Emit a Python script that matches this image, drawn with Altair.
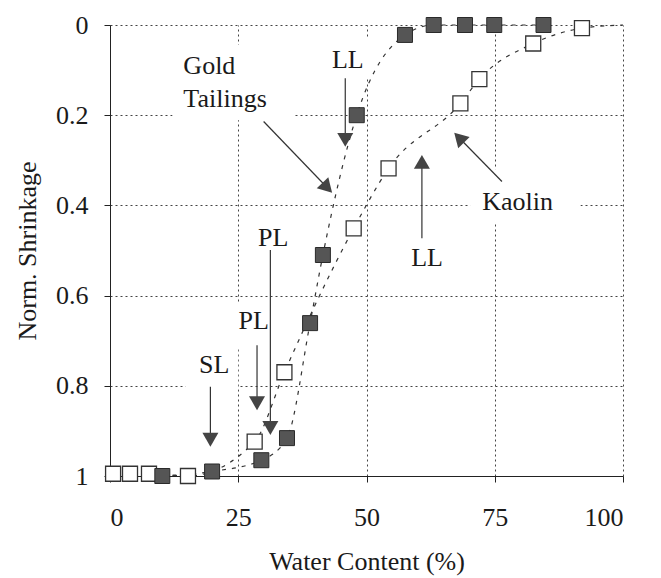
import math
import altair as alt
import pandas as pd

# ---- data ----
gold_x = [10.2, 19.9, 29.5, 34.5, 39.0, 41.5, 48.1, 57.5, 63.1, 69.2, 74.9, 84.5]
gold_y = [1.0, 0.99, 0.965, 0.916, 0.661, 0.51, 0.2, 0.022, 0.0, 0.0, 0.0, 0.0]

kaolin_x = [0.6, 3.9, 7.6, 15.2, 28.2, 34.0, 47.5, 54.3, 68.3, 72.0, 82.5, 92.0]
kaolin_y = [0.995, 0.995, 0.995, 1.0, 0.924, 0.77, 0.451, 0.318, 0.174, 0.12, 0.041, 0.007]
kaolin_tail_x = [100.0]
kaolin_tail_y = [0.0]

label_text = ["Gold", "Tailings", "LL", "Kaolin", "LL", "PL", "PL", "SL"]
label_x = [14.3, 14.3, 46.35, 79.45, 61.8, 31.8, 28.0, 20.3]
label_y = [0.091, 0.163, 0.077, 0.392, 0.517, 0.473, 0.656, 0.754]
label_align = ["left", "left", "center", "center", "center", "center", "center", "center"]

# white boxes behind some labels (they mask the grid in the reference)
box_x1 = [12.2, 42.0, 70.2, 24.1, 14.7]
box_x2 = [35.7, 50.8, 91.7, 32.2, 25.0]
box_y1 = [0.044, 0.03, 0.32, 0.615, 0.71]
box_y2 = [0.211, 0.118, 0.44, 0.714, 0.81]

arrow_x1 = [29.95, 45.86, 76.4, 60.8, 31.26, 28.66, 19.57]
arrow_y1 = [0.214, 0.118, 0.347, 0.473, 0.499, 0.71, 0.802]
arrow_x2 = [43.3, 45.86, 67.1, 60.8, 31.26, 28.66, 19.57]
arrow_y2 = [0.372, 0.27, 0.239, 0.288, 0.909, 0.854, 0.935]

x_ticks = [0, 25, 50, 75, 100]
y_ticks = [0, 0.2, 0.4, 0.6, 0.8, 1]

# ---- layout ----
W, H = 513, 451
FONT = "Liberation Serif"
FS = 26
HEAD = 256  # triangle area

px_x = W / 100.0
px_y = H / 1.0

line_rows = []
for x, y in zip(gold_x, gold_y):
    line_rows.append({"s": "Gold", "x": x, "y": y})
for x, y in zip(kaolin_x + kaolin_tail_x, kaolin_y + kaolin_tail_y):
    line_rows.append({"s": "Kaolin", "x": x, "y": y})
lines_df = pd.DataFrame(line_rows)

gold_df = pd.DataFrame({"x": gold_x, "y": gold_y})
kaolin_df = pd.DataFrame({"x": kaolin_x, "y": kaolin_y})
boxes_df = pd.DataFrame({"x1": box_x1, "x2": box_x2, "y1": box_y1, "y2": box_y2})

arrow_rows = []
head_h = math.sqrt(3) * math.sqrt(HEAD) / 4  # half height of triangle
for x1, y1, x2, y2 in zip(arrow_x1, arrow_y1, arrow_x2, arrow_y2):
    dxp = (x2 - x1) * px_x
    dyp = (y2 - y1) * px_y
    L = math.hypot(dxp, dyp)
    ux, uy = dxp / L, dyp / L
    ang = math.degrees(math.atan2(ux, -uy)) % 360
    cx = x2 - ux * head_h / px_x
    cy = y2 - uy * head_h / px_y
    arrow_rows.append({"x1": x1, "y1": y1, "x2": x2, "y2": y2,
                       "hx": cx, "hy": cy, "ang": ang})
arrows_df = pd.DataFrame(arrow_rows)

labels_df = pd.DataFrame({"t": label_text, "x": label_x, "y": label_y, "a": label_align})

xscale = alt.Scale(domain=[0, 100], nice=False, zero=False)
yscale = alt.Scale(domain=[0, 1], reverse=True, nice=False, zero=False)

xaxis = alt.Axis(values=x_ticks, title="Water Content (%)", grid=True,
                 labelBaseline="middle", labelPadding=35, tickSize=6,
                 titleY=85, titleBaseline="middle")
yaxis = alt.Axis(values=y_ticks, title="Norm. Shrinkage", grid=True, format=".1~f",
                 labelPadding=16, tickSize=6,
                 titleX=-83, titleY=H / 2, titleBaseline="middle",
                 titleAlign="center", titleAngle=270)

boxes = alt.Chart(boxes_df).mark_rect(color="white", opacity=1).encode(
    x=alt.X("x1:Q", scale=xscale, axis=xaxis),
    y=alt.Y("y1:Q", scale=yscale, axis=yaxis),
    x2="x2:Q", y2="y2:Q",
)

lines = alt.Chart(lines_df).mark_line(
    color="#333333", strokeWidth=1.2, strokeDash=[4, 6], interpolate="monotone"
).encode(
    x=alt.X("x:Q", scale=xscale),
    y=alt.Y("y:Q", scale=yscale),
    detail="s:N",
)

gold_pts = alt.Chart(gold_df).mark_square(
    size=225, filled=True, color="#555555", stroke="#2a2a2a", strokeWidth=1, opacity=1
).encode(x=alt.X("x:Q", scale=xscale), y=alt.Y("y:Q", scale=yscale))

kaolin_pts = alt.Chart(kaolin_df).mark_square(
    size=225, filled=True, color="white", stroke="#333333", strokeWidth=1.3, opacity=1
).encode(x=alt.X("x:Q", scale=xscale), y=alt.Y("y:Q", scale=yscale))

shafts = alt.Chart(arrows_df).mark_rule(color="#333333", strokeWidth=1.2).encode(
    x=alt.X("x1:Q", scale=xscale), y=alt.Y("y1:Q", scale=yscale),
    x2="hx:Q", y2="hy:Q",
)

heads = alt.Chart(arrows_df).mark_point(
    shape="triangle-up", size=HEAD, filled=True, color="#444444", opacity=1
).encode(
    x=alt.X("hx:Q", scale=xscale), y=alt.Y("hy:Q", scale=yscale),
    angle=alt.Angle("ang:Q", scale=None),
)

texts_left = alt.Chart(labels_df[labels_df.a == "left"]).mark_text(
    font=FONT, fontSize=FS, align="left", baseline="middle", color="#1a1a1a"
).encode(x=alt.X("x:Q", scale=xscale), y=alt.Y("y:Q", scale=yscale), text="t:N")

texts_center = alt.Chart(labels_df[labels_df.a == "center"]).mark_text(
    font=FONT, fontSize=FS, align="center", baseline="middle", color="#1a1a1a"
).encode(x=alt.X("x:Q", scale=xscale), y=alt.Y("y:Q", scale=yscale), text="t:N")

chart = alt.layer(
    boxes, lines, kaolin_pts, gold_pts, shafts, heads, texts_left, texts_center
).properties(
    width=W, height=H,
    autosize=alt.AutoSizeParams(type="none"),
    padding={"left": 102, "top": 17, "right": 30, "bottom": 100},
    background="white",
).configure_view(stroke=None).configure_axis(
    labelFont=FONT, titleFont=FONT, labelFontSize=FS, titleFontSize=FS,
    labelColor="#1a1a1a", titleColor="#1a1a1a", titleFontWeight="normal",
    domainColor="#222222", domainWidth=1, tickColor="#222222", tickWidth=1,
    gridColor="#444444", gridDash=[2, 3], gridWidth=1, gridOpacity=1,
)

chart.save("out.html", embed_options={"renderer": "svg", "actions": False})
